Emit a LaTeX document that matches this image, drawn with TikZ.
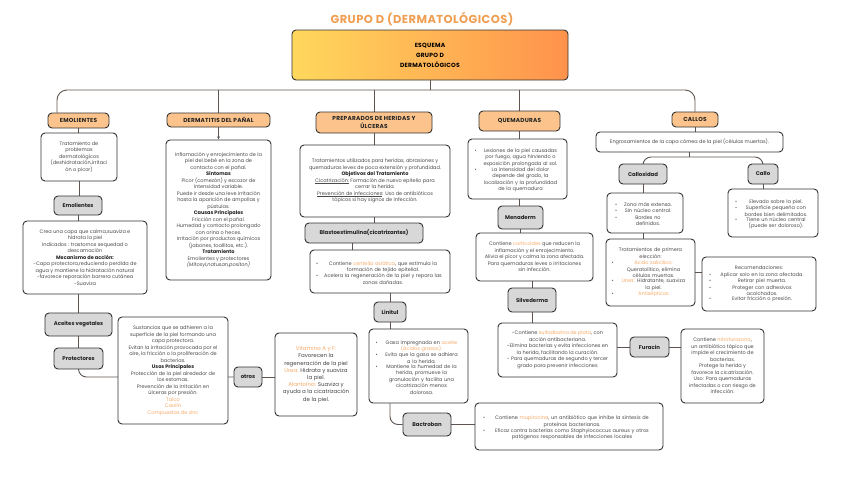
\documentclass[tikz,border=0pt]{standalone}
\usepackage{fontspec}
\setmainfont{Poppins}
\newfontfamily\headfont{Poppins}[LetterSpace=4]
\usetikzlibrary{arrows.meta,backgrounds}

\definecolor{headc}{RGB}{252,196,140}
\definecolor{grayc}{RGB}{216,216,216}
\definecolor{edgec}{RGB}{50,50,50}
\definecolor{linec}{RGB}{95,85,80}
\definecolor{hlc}{RGB}{247,170,105}
\definecolor{titlec}{RGB}{239,158,82}
\definecolor{bodyc}{RGB}{75,75,75}
\definecolor{darkc}{RGB}{35,35,35}
\definecolor{topl}{RGB}{255,216,92}
\definecolor{topr}{RGB}{255,146,76}

\newcommand{\hl}[1]{\textcolor{hlc}{#1}}
\newcommand{\tit}[1]{\textbf{\color{darkc}#1}}
\newcommand{\bitem}[1]{\par\noindent\makebox[6pt][l]{\textbullet}\parbox[t]{\dimexpr\linewidth-6pt}{\centering #1}}

\tikzset{
  conn/.style={draw=linec, line width=0.9pt},
  sz/.style 2 args={minimum width=#1, minimum height=#2},
  box/.style={draw=edgec, line width=0.9pt, rounded corners=4pt, fill=white, align=center,
    text=bodyc, inner sep=2pt, font=\fontsize{5}{6.5}\selectfont},
  head/.style={box, fill=headc, text=darkc, font=\headfont\bfseries\fontsize{5.8}{7.5}\selectfont},
  drug/.style={box, fill=grayc, text=darkc, font=\bfseries\fontsize{5.4}{7}\selectfont},
}

\begin{document}
\begin{tikzpicture}[x=1pt, y=-1pt]
\useasboundingbox (0,0) rectangle (848,477);

\node[text=titlec, font=\headfont\bfseries\fontsize{11.5}{13}\selectfont] (title) at (422,19) {GRUPO D (DERMATOLÓGICOS)};
\node[box, left color=topl, right color=topr, text=black, font=\headfont\bfseries\fontsize{6}{10}\selectfont, sz={276}{50}] (top) at (430,55) {ESQUEMA\\GRUPO D\\DERMATOLÓGICOS};

% emolientes
\node[head, sz={61}{15}] (emolh) at (78.5,120.5) {EMOLIENTES};
\node[box, sz={76}{48}] (emoldesc) at (79,157) {Tratamiento de\\problemas\\dermatológicos\\(deshidratación,irritaci\\ón o picor)};
\node[drug, sz={48}{19}] (emolg) at (78,205.5) {Emolientes};
\node[box, sz={124}{73}] (emolmec) at (85,257.5) {Crea una capa que calma,suaviza e\\hidrata la piel\\Indicados : trastornos sequedad o\\descamación\\\tit{Mecanismo de acción:}\\-Capa protectora,reduciendo perdida de\\agua y mantiene la hidratación natural\\-favorece reparación barrera cutánea\\-Suaviza};
\node[drug, sz={67}{23}] (aceites) at (78.5,324.5) {Aceites vegetales};
\node[drug, sz={49}{21}] (protec) at (78.5,358.5) {Protectores};
\node[box, sz={110}{107}] (sust) at (173,370.5) {Sustancias que se adhieren a la\\superficie de la piel formando una\\capa protectora.\\Evitan la irritación provocada por el\\aire, la fricción o la proliferación de\\bacterias.\\\tit{Usos Principales}\\Protección de la piel alrededor de\\los estomas.\\Prevención de la irritación en\\úlceras por presión.\\\hl{Talco}\\\hl{Caolín}\\\hl{Compuestos de zinc}};
\node[drug, sz={28}{20}] (otros) at (248,377) {otros};
\node[box, text=darkc!85, font=\fontsize{5.5}{7.2}\selectfont, sz={82}{83}] (vitam) at (316,374.5) {\hl{Vitamina A y F:}\\Favorecen la\\regeneración de la piel\\\hl{Urea:} Hidrata y suaviza\\la piel.\\\hl{Alantoína:} Suaviza y\\ayuda a la cicatrización\\de la piel.};

% dermatitis
\node[head, sz={103}{14}] (dermh) at (218.5,120) {DERMATITIS DEL PAÑAL};
\node[box, sz={105}{140}] (dermdesc) at (218.5,210) {Inflamación y enrojecimiento de la\\piel del bebé en la zona de\\contacto con el pañal.\\\tit{Síntomas}\\Picor (comezón) y escozor de\\intensidad variable.\\Puede ir desde una leve irritación\\hasta la aparición de ampollas y\\pústulas.\\\tit{Causas Principales}\\Fricción con el pañal.\\Humedad y contacto prolongado\\con orina o heces.\\Irritación por productos químicos\\(jabones, toallitas, etc.).\\\tit{Tratamiento}\\Emolientes y protectores\\\textit{(Mitosyl,natusan,positon)}};

% preparados
\node[head, sz={116}{21}] (preph) at (374,122.5) {PREPARADOS DE HERIDAS Y\\ÚLCERAS};
\node[box, sz={150}{72}] (prepdesc) at (375,181) {Tratamientos utilizados para heridas, abrasiones y\\quemaduras leves de poca extensión y profundidad.\\\tit{Objetivos del Tratamiento}\\\underline{Cicatrización:} Formación de nuevo epitelio para\\cerrar la herida.\\\underline{Prevención de infecciones}: Uso de antibióticos\\tópicos si hay signos de infección.};
\node[drug, sz={118}{20}] (blasto) at (364,233) {Blastoestimulina(cicatrizantes)};
\node[box, text width=128, sz={140}{43}] (centella) at (380,271.5) {\bitem{Contiene \hl{centella asiática}, que estimula la\\formación de tejido epitelial.}\bitem{Acelera la regeneración de la piel y repara las\\zonas dañadas.}};
\node[drug, sz={32}{20}] (linitul) at (390,312) {Linitul};
\node[box, text width=86, sz={99}{74}] (linbox) at (418.5,366) {\bitem{Gasa impregnada en \hl{aceite}\\\hl{(ácidos grasos).}}\bitem{Evita que la gasa se adhiera\\a la herida.}\bitem{Mantiene la humedad de la\\herida, promueve la\\granulación y facilita una\\cicatrización menos\\dolorosa.}};
\node[drug, sz={48}{23}] (bactro) at (427,424.5) {Bactroban};
\node[box, text width=172, sz={188}{47}] (bactbox) at (569,426.5) {\bitem{Contiene \hl{mupirocina}, un antibiótico que inhibe la síntesis de\\proteínas bacterianas.}\bitem{Eficaz contra bacterias como Staphylococcus aureus y otros\\patógenos responsables de infecciones locales}};

% quemaduras
\node[head, sz={81}{20}] (quemh) at (519.5,121) {QUEMADURAS};
\node[box, text width=86, sz={99}{60}] (quemdesc) at (517.5,169) {\bitem{Lesiones de la piel causadas\\por fuego, agua hirviendo o\\exposición prolongada al sol.}\bitem{La intensidad del dolor\\depende del grado, la\\localización y la profundidad\\de la quemadura}};
\node[drug, sz={45}{23}] (menad) at (520.5,217.5) {Menaderm};
\node[box, sz={117}{48}] (cortic) at (534.5,257) {Contiene \hl{corticoides} que reducen la\\inflamación y el enrojecimiento.\\Alivia el picor y calma la zona afectada.\\Para quemaduras leves o irritaciones\\sin infección.};
\node[drug, sz={48}{24}] (silv) at (532,300) {Silvederma};
\node[box, sz={119}{54}] (silvbox) at (557.5,350) {-Contiene \hl{sulfadiazina de plata}, con\\acción antibacteriana.\\-Elimina bacterias y evita infecciones en\\la herida, facilitando la curación.\\- Para quemaduras de segundo y tercer\\grado para prevenir infecciones};
\node[drug, sz={39}{20}] (furacin) at (649.5,347) {Furacin};
\node[box, sz={83}{74}] (furbox) at (722.5,366) {Contiene \hl{nitrofurazona},\\un antibiótico tópico que\\impide el crecimiento de\\bacterias.\\Protege la herida y\\favorece la cicatrización.\\Uso: Para quemaduras\\infectadas o con riesgo de\\infección.};

% callos
\node[head, sz={46}{15}] (callosh) at (695,119.5) {CALLOS};
\node[box, sz={187}{20}] (engros) at (689.5,142) {Engrosamientos de la capa córnea de la piel (células muertas).};
\node[drug, sz={48}{20}] (callosid) at (643,174) {Callosidad};
\node[drug, sz={30}{20}] (callo) at (763,174) {Callo};
\node[box, text width=60, sz={76}{40}] (callosbox) at (645,213) {\bitem{Zona más extensa.}\bitem{Sin núcleo central.}\bitem{Bordes no\\definidos.}};
\node[box, text width=76, sz={90}{48}] (callobox) at (773,213) {\bitem{Elevado sobre la piel.}\bitem{Superficie pequeña con\\bordes bien delimitados.}\bitem{Tiene un núcleo central\\(puede ser doloroso).}};
\node[box, text width=78, sz={89}{67}] (tratbox) at (650.5,272.5) {{\centering Tratamientos de primera\\elección:\par}\bitem{\hl{Acido salicílico:}\\Queratolítico, elimina\\células muertas.}\bitem{\hl{Urea:} Hidratante, suaviza\\la piel.}\bitem{\hl{Antisépticos}}};
\node[box, text width=100, sz={114}{54}] (recobox) at (759,284) {{\centering Recomendaciones:\par}\bitem{Aplicar solo en la zona afectada.}\bitem{Retirar piel muerta.}\bitem{Proteger con adhesivos\\acolchados.}\bitem{Evitar fricción o presión.}};

\begin{scope}[on background layer]
  \coordinate (bus) at (0,90);
  \coordinate (cbus) at (0,157);
  \draw[conn] (top.south) -- (top.south |- bus);
  \draw[conn, rounded corners=10] ([xshift=-21.5]emolh.north) |- (callosh.north |- bus) -- (callosh.north);
  \foreach \n in {dermh, preph, quemh}
    \draw[conn] (\n.north) -- (\n.north |- bus);
  % emolientes
  \draw[conn] (emolh.south) -- (emolh.south |- emoldesc.north);
  \draw[conn] (emoldesc.south) -- (emoldesc.south |- emolg.north);
  \draw[conn] (emolg.south) -- (emolg.south |- emolmec.north);
  \draw[conn] (aceites.north |- emolmec.south) -- (aceites.north);
  \draw[conn] (aceites.south) -- (aceites.south |- protec.north);
  \draw[conn, rounded corners=8] (protec.south) |- (otros.west);
  \draw[conn] (otros.east) -- (otros.east -| vitam.west);
  % dermatitis
  \draw[conn, -{Latex[length=3pt, width=3pt]}] (dermh.south) -- (dermh.south |- dermdesc.north);
  % preparados
  \draw[conn] (preph.south) -- (preph.south |- prepdesc.north);
  \draw[conn] (preph.south |- prepdesc.south) -- (preph.south |- blasto.north);
  \draw[conn] ([xshift=-12]blasto.south) -- ([xshift=-12]blasto.south |- centella.north);
  \draw[conn] (linitul.north |- centella.south) -- (linitul.north);
  \draw[conn] (linitul.south) -- (linitul.south |- linbox.north);
  \draw[conn, rounded corners=8] (linitul.south |- linbox.south) |- (bactro.west);
  \draw[conn] (bactro.east) -- (bactro.east -| bactbox.west);
  % quemaduras
  \draw[conn] (quemh.south) -- (quemh.south |- quemdesc.north);
  \draw[conn] (quemh.south |- quemdesc.south) -- (quemh.south |- menad.north);
  \draw[conn] (menad.south) -- (menad.south |- cortic.north);
  \draw[conn] (silv.north |- cortic.south) -- (silv.north);
  \draw[conn] (silv.south) -- (silv.south |- silvbox.north);
  \draw[conn] (furacin.west -| silvbox.east) -- (furacin.west);
  \draw[conn] (furacin.east) -- (furacin.east -| furbox.west);
  % callos
  \draw[conn] (callosh.south) -- (callosh.south |- engros.north);
  \draw[conn] (engros.south) -- (engros.south |- cbus);
  \draw[conn, rounded corners=8] (callosid.north) |- (callo.north |- cbus) -- (callo.north);
  \draw[conn] (callosid.south) -- (callosid.south |- callosbox.north);
  \draw[conn] (callosid.south |- callosbox.south) -- (callosid.south |- tratbox.north);
  \draw[conn] (tratbox.east) -- (tratbox.east -| recobox.west);
  \draw[conn] (callo.south) -- (callo.south |- callobox.north);
\end{scope}
\end{tikzpicture}
\end{document}
